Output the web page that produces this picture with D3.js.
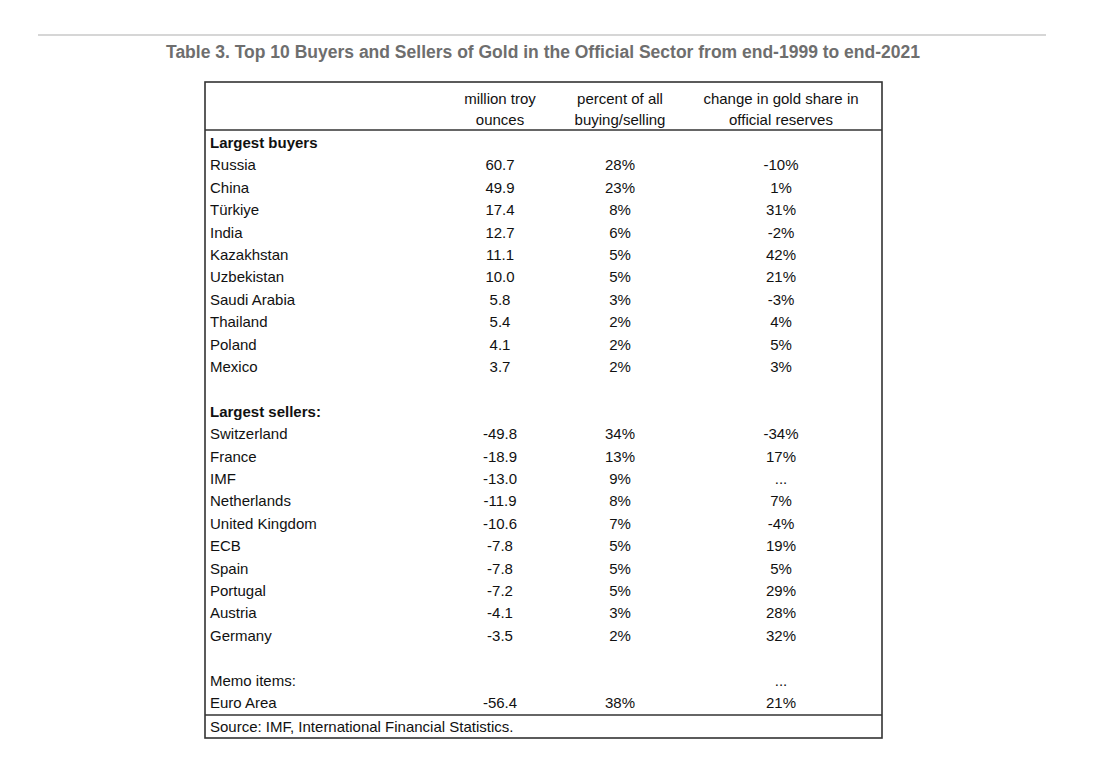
<!DOCTYPE html>
<html lang="en">
<head>
<meta charset="UTF-8">
<script src="https://d3js.org/d3.v7.min.js"></script>
<style>
  body { margin: 0; background: #fff; font-family: "Liberation Sans", Arial, sans-serif; }
</style>
</head>
<body>
<div id="chart"></div>
<script>
const title = "Table 3. Top 10 Buyers and Sellers of Gold in the Official Sector from end-1999 to end-2021";
const headers = [["million troy", "ounces"], ["percent of all", "buying/selling"], ["change in gold share in", "official reserves"]];
const buyers = ["Russia", "China", "Türkiye", "India", "Kazakhstan", "Uzbekistan", "Saudi Arabia", "Thailand", "Poland", "Mexico"];
const buyerOunces = ["60.7", "49.9", "17.4", "12.7", "11.1", "10.0", "5.8", "5.4", "4.1", "3.7"];
const buyerPct = ["28%", "23%", "8%", "6%", "5%", "5%", "3%", "2%", "2%", "2%"];
const buyerShare = ["-10%", "1%", "31%", "-2%", "42%", "21%", "-3%", "4%", "5%", "3%"];
const sellers = ["Switzerland", "France", "IMF", "Netherlands", "United Kingdom", "ECB", "Spain", "Portugal", "Austria", "Germany"];
const sellerOunces = ["-49.8", "-18.9", "-13.0", "-11.9", "-10.6", "-7.8", "-7.8", "-7.2", "-4.1", "-3.5"];
const sellerPct = ["34%", "13%", "9%", "8%", "7%", "5%", "5%", "5%", "3%", "2%"];
const sellerShare = ["-34%", "17%", "...", "7%", "-4%", "19%", "5%", "29%", "28%", "32%"];
const memo = ["Euro Area", "-56.4", "38%", "21%"];
const source = "Source: IMF, International Financial Statistics.";

// build rows: [label, v1, v2, v3, bold]
const rows = [["Largest buyers", "", "", "", true]];
buyers.forEach((b, i) => rows.push([b, buyerOunces[i], buyerPct[i], buyerShare[i], false]));
rows.push(["", "", "", "", false]);
rows.push(["Largest sellers:", "", "", "", true]);
sellers.forEach((s, i) => rows.push([s, sellerOunces[i], sellerPct[i], sellerShare[i], false]));
rows.push(["", "", "", "", false]);
rows.push(["Memo items:", "", "", "...", false]);
rows.push([memo[0], memo[1], memo[2], memo[3], false]);

const width = 1100, height = 760;
const svg = d3.select("#chart").append("svg").attr("width", width).attr("height", height);

svg.append("line").attr("x1", 38).attr("x2", 1046).attr("y1", 35).attr("y2", 35)
  .attr("stroke", "#c8c8c8").attr("stroke-width", 1.5);
svg.append("text").attr("x", 543).attr("y", 58).attr("text-anchor", "middle")
  .attr("font-size", 17.5).attr("font-weight", "bold").attr("fill", "#6e6e6e").text(title);

const boxL = 205, boxR = 882, boxT = 82, boxB = 738;
const y = d3.scaleLinear().domain([0, rows.length]).range([148, 148 + rows.length * 22.4]);
const colX = [500, 620, 781];

const box = svg.append("g").attr("stroke", "#333").attr("stroke-width", 1.6);
box.append("rect").attr("x", boxL).attr("y", boxT).attr("width", boxR - boxL).attr("height", boxB - boxT).attr("fill", "none");
box.append("line").attr("x1", boxL).attr("x2", boxR).attr("y1", 130).attr("y2", 130);
box.append("line").attr("x1", boxL).attr("x2", boxR).attr("y1", 715).attr("y2", 715);

const hdr = svg.append("g").attr("font-size", 15).attr("fill", "#111").attr("text-anchor", "middle");
headers.forEach((h, i) => {
  hdr.append("text").attr("x", colX[i]).attr("y", 104).text(h[0]);
  hdr.append("text").attr("x", colX[i]).attr("y", 125).text(h[1]);
});

const g = svg.append("g").attr("font-size", 15).attr("fill", "#111");
const row = g.selectAll("g.row").data(rows).join("g").attr("class", "row")
  .attr("transform", (d, i) => `translate(0,${y(i)})`);
row.append("text").attr("x", 210).attr("font-weight", d => d[4] ? "bold" : "normal").text(d => d[0]);
[1, 2, 3].forEach(k => {
  row.append("text").attr("x", colX[k - 1]).attr("text-anchor", "middle").text(d => d[k]);
});

g.append("text").attr("x", 210).attr("y", 732).text(source);
</script>
</body>
</html>
